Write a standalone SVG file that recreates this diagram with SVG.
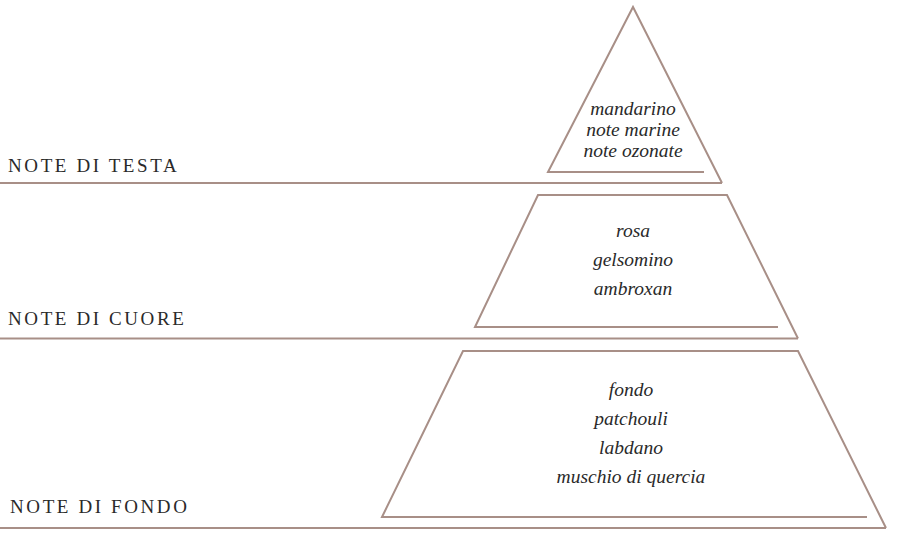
<svg xmlns="http://www.w3.org/2000/svg" width="900" height="535" viewBox="0 0 900 535">
<style>
.ln{fill:none;stroke:#a88f87;stroke-width:2;stroke-linejoin:miter}
.lbl{font-family:"Liberation Serif",serif;font-size:19px;letter-spacing:2.6px;fill:#2a2a2a}
.it{font-family:"Liberation Serif",serif;font-style:italic;font-size:19.5px;fill:#2a2a2a;text-anchor:middle}
</style>
<rect width="900" height="535" fill="#fff"/>
<g id="connectors">
<line class="ln" x1="0" y1="183" x2="722" y2="183"/>
<line class="ln" x1="0" y1="338.5" x2="798" y2="338.5"/>
<line class="ln" x1="0" y1="528" x2="886" y2="528"/>
</g>
<g id="tier-top">
<polyline class="ln" points="704,172 548,172 633,7 722,183"/>
<text class="lbl" x="8" y="172">NOTE DI TESTA</text>
<text class="it" x="633" y="115">mandarino</text>
<text class="it" x="633" y="136">note marine</text>
<text class="it" x="633" y="157">note ozonate</text>
</g>
<g id="tier-middle">
<polyline class="ln" points="778,327 475,327 538,195 727,195 798,338.5"/>
<text class="lbl" x="8" y="325">NOTE DI CUORE</text>
<text class="it" x="633" y="237">rosa</text>
<text class="it" x="633" y="266">gelsomino</text>
<text class="it" x="633" y="295">ambroxan</text>
</g>
<g id="tier-bottom">
<polyline class="ln" points="867,517 382,517 463,351 798,351 886,528"/>
<text class="lbl" x="10" y="513">NOTE DI FONDO</text>
<text class="it" x="631" y="396">fondo</text>
<text class="it" x="631" y="425">patchouli</text>
<text class="it" x="631" y="454">labdano</text>
<text class="it" x="631" y="483">muschio di quercia</text>
</g>
</svg>
